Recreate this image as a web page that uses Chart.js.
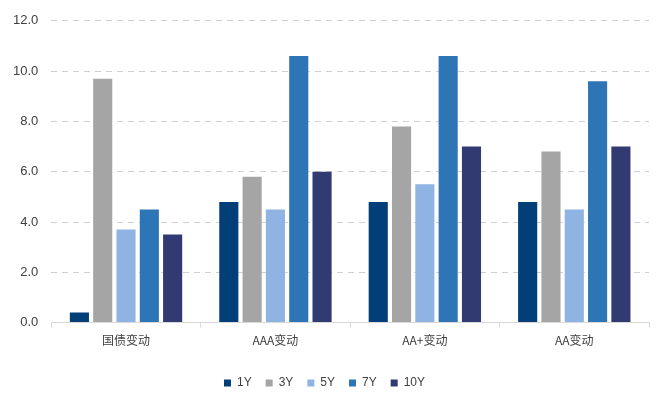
<!DOCTYPE html>
<html><head><meta charset="utf-8">
<script src="https://cdn.jsdelivr.net/npm/chart.js@4/dist/chart.umd.min.js"></script>
<style>html,body{margin:0;padding:0;background:#fff}#wrap{width:657px;height:399px}</style>
</head><body><div id="wrap"><canvas id="c" width="657" height="399"></canvas></div>
<script>
const categories = ["国债变动", "AAA变动", "AA+变动", "AA变动"];
const seriesNames = ["1Y", "3Y", "5Y", "7Y", "10Y"];
const v1Y = [0.4, 4.8, 4.8, 4.8];
const v3Y = [9.7, 5.8, 7.8, 6.8];
const v5Y = [3.7, 4.5, 5.5, 4.5];
const v7Y = [4.5, 10.6, 10.6, 9.6];
const v10Y = [3.5, 6.0, 7.0, 7.0];
const yTicks = [0, 2, 4, 6, 8, 10, 12];
const colors = ["#023f78", "#a5a5a5", "#8fb4e3", "#2e75b6", "#323a72"];
const values = [v1Y, v3Y, v5Y, v7Y, v10Y];

new Chart(document.getElementById('c'), {
  type: 'bar',
  data: {
    labels: categories,
    datasets: seriesNames.map((n, i) => ({
      label: n, data: values[i], backgroundColor: colors[i],
      categoryPercentage: 0.78, barPercentage: 0.82
    }))
  },
  options: {
    responsive: false, animation: false,
    layout: { padding: { top: 7, right: 8, left: 0, bottom: 0 } },
    plugins: {
      legend: {
        position: 'bottom',
        labels: { boxWidth: 7, boxHeight: 7, font: { size: 12, family: 'Liberation Sans' }, color: '#404040', padding: 14 }
      },
      tooltip: { enabled: false }
    },
    scales: {
      x: {
        afterFit: (s) => { s.height += 9; },
        grid: { offset: true, drawOnChartArea: false, color: '#d9d9d9', tickLength: 5 },
        border: { color: '#d9d9d9' },
        ticks: { font: { size: 12, family: 'Noto Sans CJK SC' }, color: '#404040', padding: 6 }
      },
      y: {
        min: 0, max: 12,
        afterBuildTicks: (s) => { s.ticks = yTicks.map(v => ({ value: v })); },
        grid: { color: '#d0d0d0', drawTicks: false },
        border: { display: false, dash: [6, 5] },
        ticks: { font: { size: 13, family: 'Liberation Sans' }, color: '#404040', padding: 13,
          callback: (v) => Number(v).toFixed(1) }
      }
    }
  }
});
</script></body></html>
